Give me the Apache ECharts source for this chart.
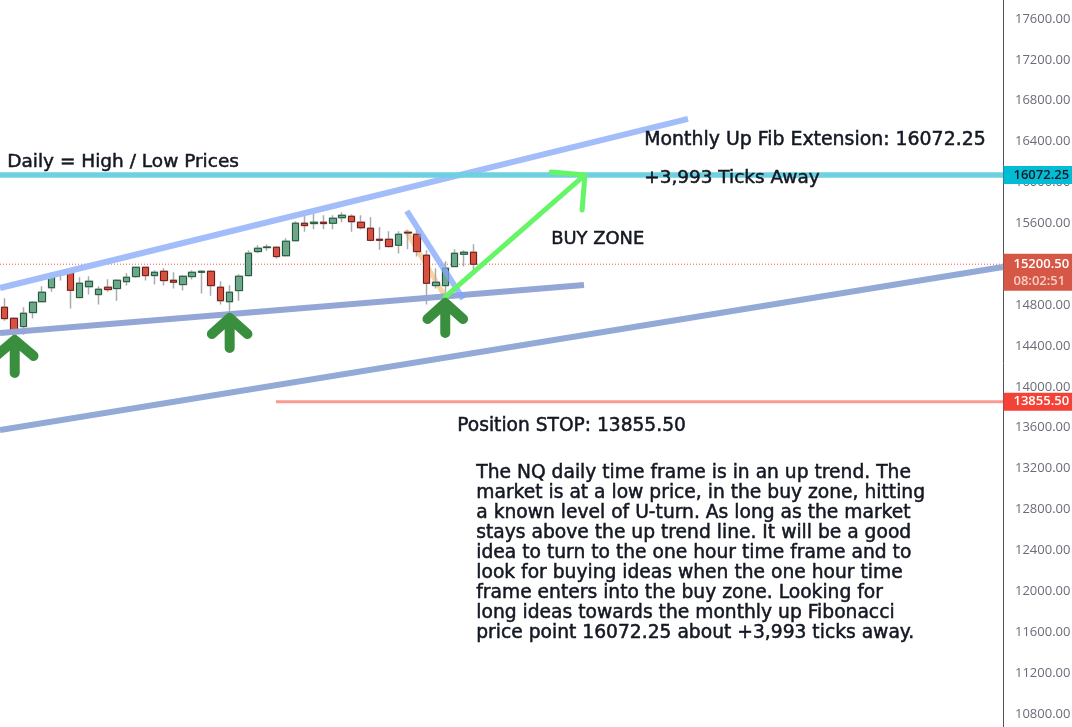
<!DOCTYPE html>
<html><head><meta charset="utf-8">
<style>html,body{margin:0;padding:0;background:#fff}#c{width:1072px;height:727px}</style>
<script src="https://cdn.jsdelivr.net/npm/echarts@6/dist/echarts.min.js"></script>
</head><body><div id="c"></div>
<script>
// OHLC: [open, close, low, high]
const ohlc = [
[14779,14668,14648,14867],[14671,14541,14443,14681],[14590,14720,14511,14779],[14727,14828,14668,14838],
[14834,14926,14825,14984],[14971,15102,14932,15121],[15099,15121,15040,15131],[15121,14945,14766,15131],
[14874,15014,14864,15072],[14981,15033,14903,15082],[14903,14955,14805,14984],[14975,14952,14932,15053],
[14962,15043,14844,15053],[15030,15072,14991,15112],[15079,15170,15069,15170],[15170,15089,15040,15170],
[15089,15121,15001,15141],[15131,15040,14991,15161],[15043,15024,14962,15121],[15001,15082,14942,15092],
[15079,15121,15050,15141],[15121,15131,14913,15141],[15131,14991,14893,15141],[14975,14844,14805,15033],
[14834,14926,14727,14994],[14942,15082,14844,15102],[15089,15307,15079,15337],[15324,15356,15307,15386],
[15363,15369,15333,15395],[15366,15275,15255,15376],[15284,15425,15275,15454],[15431,15601,15425,15620],
[15601,15578,15519,15679],[15598,15611,15542,15699],[15611,15598,15542,15679],[15601,15650,15542,15679],
[15656,15679,15611,15708],[15669,15617,15519,15689],[15611,15558,15539,15679],[15552,15434,15425,15660],
[15444,15434,15343,15562],[15444,15373,15363,15523],[15386,15493,15304,15523],[15513,15506,15346,15532],
[15493,15324,15275,15532],[15288,15014,14805,15337],[14991,15024,14962,15161],[14991,15161,14922,15229],
[15177,15307,15170,15346],[15298,15317,15177,15337],[15317,15200,15141,15395]
];
const priceTicks = { min: 10400, max: 18000, interval: 400 };
const barSlots = 107;
const upperChannel = [[-0.5,14968],[72.9,16622]];
const supportLine  = [[-0.5,14528],[61.8,14997]];
const lowerChannel = [[-0.5,13578],[106.5,15173]];
const swingBlue    = [[42.9,15721],[48.9,14860]];
const swingOrange  = [[42.9,15516],[47.0,14880]];
const targetArrow  = [[47.0,14880],[61.9,16074],[58.3,16103],[61.9,16074],[61.6,15731]];
const targetPrice = 16072.25, lastPrice = 15200.50, stopPrice = 13855.50;
const stopLine = [[28.94,stopPrice],[106.5,stopPrice]];
const upArrows = [
 [[1.07,14136],[1.07,14459],[-0.93,14303],[1.07,14459],[3.07,14303]],
 [[24,14381],[24,14674],[22.1,14518],[24,14674],[25.9,14518]],
 [[47,14528],[47,14821],[45.1,14665],[47,14821],[48.9,14665]]
];
const paragraph = [
"The NQ daily time frame is in an up trend. The",
"market is at a low price, in the buy zone, hitting",
"a known level of U-turn. As long as the market",
"stays above the up trend line. It will be a good",
"idea to turn to the one hour time frame and to",
"look for buying ideas when the one hour time",
"frame enters into the buy zone. Looking for",
"long ideas towards the monthly up Fibonacci",
"price point 16072.25 about +3,993 ticks away."
];
const categories = Array.from({length:barSlots},(_,i)=>'D'+(i+1));
const FONT='"DejaVu Sans"', AX='"Open Sans"';
const bodies = ohlc.map(d=>[d[0],d[1],Math.min(d[0],d[1]),Math.max(d[0],d[1])]);
const ov = (name,data,color,width,z,extra)=>Object.assign({name,type:'line',xAxisIndex:1,data,symbol:'none',silent:true,z,
  lineStyle:{color,width,cap:'round',join:'round'},animation:false},extra||{});
const tag = (price,text,bg,fg,extra)=>({type:'scatter',xAxisIndex:1,symbolSize:1,clip:false,z:20,silent:true,
  itemStyle:{color:'transparent',opacity:1},data:[[106.5,price]],
  label:Object.assign({show:true,position:'right',distance:0,formatter:text,backgroundColor:bg,color:fg,opacity:1,
    fontFamily:AX,fontSize:13,fontWeight:600,width:59,padding:[2,0,1,10],lineHeight:15},extra||{})});
const txt=(left,top,text,size,extra)=>({type:'text',left,top,z:30,style:Object.assign({text,fill:'#131722',stroke:'#131722',lineWidth:0.5,font:size+'px '+FONT},extra||{})});
const chart = echarts.init(document.getElementById('c'),null,{renderer:'canvas'});
chart.setOption({
 animation:false,backgroundColor:'#fff',
 grid:{left:0,right:69,top:-21.9,bottom:-27.8,containLabel:false,outerBoundsMode:'none'},
 xAxis:[
  {type:'category',data:categories,show:false},
  {type:'value',min:-0.5,max:106.5,show:false}
 ],
 yAxis:{type:'value',position:'right',min:priceTicks.min,max:priceTicks.max,interval:priceTicks.interval,
  splitLine:{show:false},axisTick:{show:false},
  axisLine:{show:true,onZero:false,lineStyle:{color:'#50535e',width:1}},
  axisLabel:{color:'#6a6d78',fontFamily:AX,fontSize:13,margin:12,formatter:v=>v.toFixed(2)}},
 series:[
  ov('Swing orange',swingOrange,'#fbd3a3',5,2),
  {name:'Wicks',type:'candlestick',data:ohlc,barWidth:7,z:3,silent:true,
   itemStyle:{color:'transparent',color0:'transparent',borderColor:'#ababab',borderColor0:'#ababab',borderWidth:1.5}},
  {name:'Bodies',type:'candlestick',data:bodies,barWidth:7,z:4,silent:true,
   itemStyle:{color:'#6ea68a',color0:'#d8503e',borderColor:'#1d5a3d',borderColor0:'#6f1a1a',borderWidth:1,borderColorDoji:'#1d5a3d'}},
  ov('Last price',[[-0.5,lastPrice],[106.5,lastPrice]],'#e8584a',1,1,{lineStyle:{color:'#e8584a',width:1,type:[1,2]}}),
  ov('Upper channel',upperChannel,'#a3bdfb',5,5,{lineStyle:{color:'#a3bdfb',width:6}}),
  ov('Support',supportLine,'#94a6d6',5,5,{lineStyle:{color:'#94a6d6',width:6}}),
  ov('Lower channel',lowerChannel,'#93a9d6',5,5,{lineStyle:{color:'#93a9d6',width:6}}),
  ov('Target level',[[-0.5,targetPrice],[106.5,targetPrice]],'#6dd1e1',5,5,{lineStyle:{color:'#6dd1e1',width:5.5}}),
  ov('Stop',stopLine,'#f99b93',3,5,{lineStyle:{color:'#f99b93',width:3}}),
  ov('Swing blue',swingBlue,'rgba(130,165,250,0.75)',5,6,{lineStyle:{color:'rgba(130,165,250,0.75)',width:6}}),
  ov('Target arrow',targetArrow,'#66f566',5,7),
  ...upArrows.map((a,i)=>ov('Arrow '+(i+1),a,'#3a8f3f',10,8)),
  tag(targetPrice,'16072.25','#00bcd4','#131722'),
  tag(lastPrice,'{a|15200.50}\n{b|08:02:51}','#d65745','#fff',{offset:[0,8],rich:{a:{color:'#fff',fontFamily:AX,fontSize:13,fontWeight:600,lineHeight:17},b:{color:'#f6cdc7',fontFamily:AX,fontSize:13,fontWeight:600,lineHeight:17}}}),
  tag(stopPrice,'13855.50','#f44336','#fff')
 ],
 graphic:[
  txt(7,152,'Daily = High / Low Prices',18.5),
  txt(644,130,'Monthly Up Fib Extension: 16072.25',18.9),
  txt(644,169,'+3,993 Ticks Away',18.45),
  txt(551,230,'BUY ZONE',17.9),
  txt(457,416,'Position STOP: 13855.50',18.64),
  txt(476,463,paragraph.join('\n'),18.7,{lineHeight:20})
 ]
});
</script></body></html>
